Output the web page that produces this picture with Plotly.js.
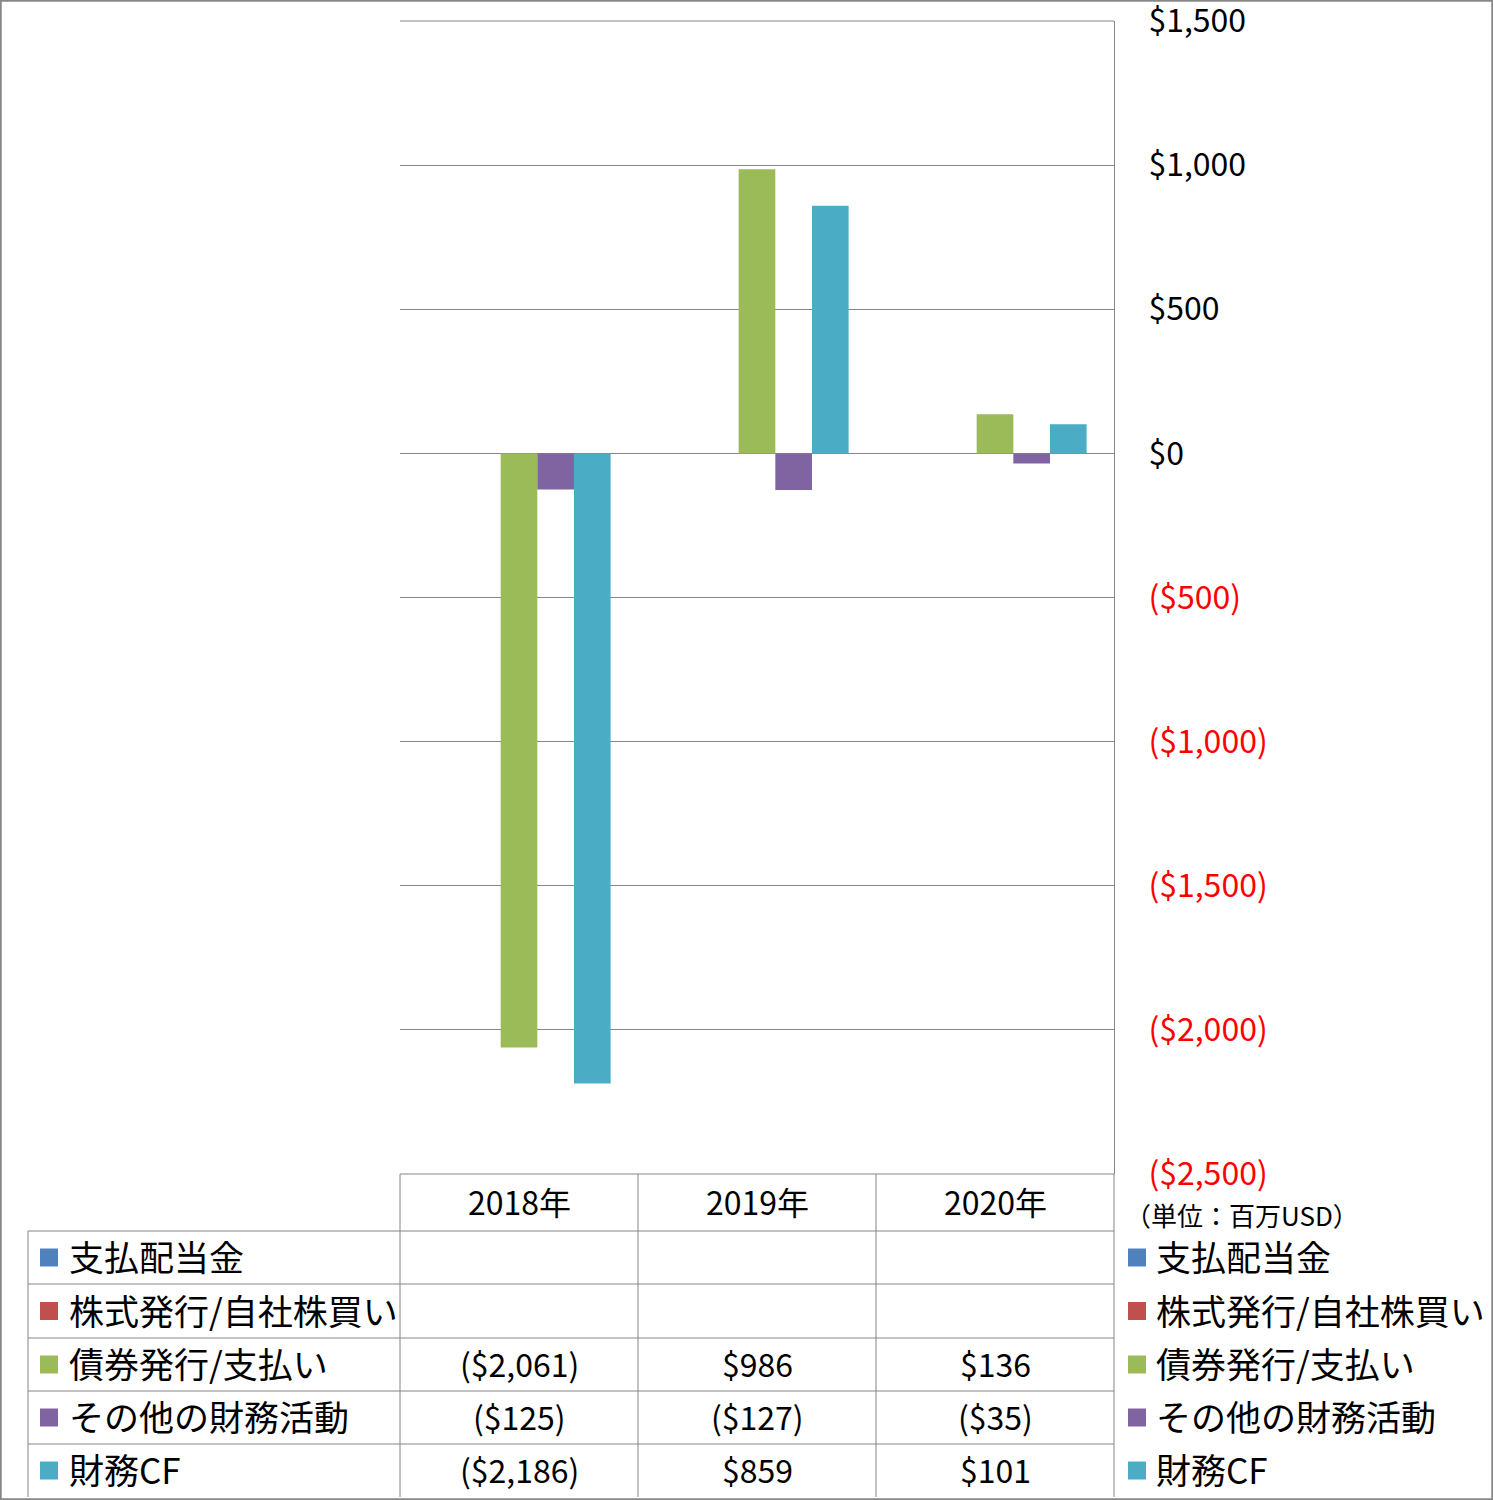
<!DOCTYPE html>
<html>
<head>
<meta charset="utf-8">
<script src="https://cdn.plot.ly/plotly-3.0.1.min.js"></script>
<style>body{margin:0;background:#fff}</style>
</head>
<body>
<div id="plot" style="width:1493px;height:1500px"></div>
<script>
// categories and series
var years = ["2018年", "2019年", "2020年"];
var seriesNames = ["支払配当金", "株式発行/自社株買い", "債券発行/支払い", "その他の財務活動", "財務CF"];
var seriesColors = ["#4F81BD", "#C0504D", "#9BBB59", "#8064A2", "#4BACC6"];
var dividends = [null, null, null];
var stockIssue = [null, null, null];
var debtIssue = [-2061, 986, 136];
var otherFin = [-125, -127, -35];
var financingCF = [-2186, 859, 101];
var seriesValues = [dividends, stockIssue, debtIssue, otherFin, financingCF];
var tickVals = [1500, 1000, 500, 0, -500, -1000, -1500, -2000, -2500];
var unitLabel = "（単位：百万USD）";

var W = 1493, H = 1500;
var FONT = "'Noto Sans CJK JP', 'Noto Sans', sans-serif";
var GRID = "#868686";
function px(x) { return x / W; }
function py(y) { return 1 - y / H; }

function fmt(v) {
  if (v === null || v === undefined) return "";
  var s = "$" + Math.abs(v).toLocaleString("en-US");
  return v < 0 ? "(" + s + ")" : s;
}

var data = seriesNames.map(function (name, i) {
  return {
    x: years,
    y: seriesValues[i],
    name: name,
    type: "bar",
    marker: {color: seriesColors[i]},
    hoverinfo: "none"
  };
});

// plot area and table geometry (pixels)
var plotL = 400, plotR = 1114, plotT = 21, plotB = 1174;
var colX = [400, 638, 876, 1114];
var rowY = [1231, 1284, 1338, 1391, 1444, 1497];

var shapes = [];
var annotations = [];
function hline(x0, x1, y) {
  shapes.push({type: "line", xref: "paper", yref: "paper", x0: px(x0), x1: px(x1), y0: py(y), y1: py(y), line: {color: GRID, width: 1}});
}
function vline(x, y0, y1) {
  shapes.push({type: "line", xref: "paper", yref: "paper", x0: px(x), x1: px(x), y0: py(y0), y1: py(y1), line: {color: GRID, width: 1}});
}

// top and bottom edges of the plot area (gridlines at range ends)
hline(plotL, plotR, plotT);
hline(plotL, plotR, plotB);

// data table grid
for (var r = 0; r < rowY.length - 1; r++) hline(28, plotR, rowY[r]);
vline(28, rowY[0], rowY[rowY.length - 1]);
colX.forEach(function (x) { vline(x, plotB, rowY[rowY.length - 1]); });

// header row: years
years.forEach(function (yr, c) {
  annotations.push({xref: "paper", yref: "paper", x: px((colX[c] + colX[c + 1]) / 2), y: py((plotB + rowY[0]) / 2 - 2),
    text: yr, showarrow: false, xanchor: "center", yanchor: "middle", font: {family: FONT, size: 32, color: "#000"}});
});

// table rows + both legends
seriesNames.forEach(function (name, i) {
  var yc = (rowY[i] + rowY[i + 1]) / 2;
  [[40, 67], [1128, 1154]].forEach(function (pos) {
    shapes.push({type: "rect", xref: "paper", yref: "paper", x0: px(pos[0]), x1: px(pos[0] + 18), y0: py(yc - 9), y1: py(yc + 9),
      fillcolor: seriesColors[i], line: {width: 0}});
    annotations.push({xref: "paper", yref: "paper", x: px(pos[1]), y: py(yc - 2), text: name, showarrow: false,
      xanchor: "left", yanchor: "middle", font: {family: FONT, size: 35, color: "#000"}});
  });
  seriesValues[i].forEach(function (v, c) {
    annotations.push({xref: "paper", yref: "paper", x: px((colX[c] + colX[c + 1]) / 2), y: py(yc - 2), text: fmt(v),
      showarrow: false, xanchor: "center", yanchor: "middle", font: {family: FONT, size: 32, color: "#000"}});
  });
});

annotations.push({xref: "paper", yref: "paper", x: px(1123), y: py(1214), text: unitLabel, showarrow: false,
  xanchor: "left", yanchor: "middle", font: {family: FONT, size: 26, color: "#000"}});

// outer border
shapes.push({type: "rect", xref: "paper", yref: "paper", x0: 0.0005, x1: 0.9995, y0: 0.0005, y1: 0.9995,
  line: {color: "#888888", width: 2}, fillcolor: "rgba(0,0,0,0)"});

var layout = {
  width: W,
  height: H,
  margin: {l: 0, r: 0, t: 0, b: 0},
  paper_bgcolor: "#fff",
  plot_bgcolor: "#fff",
  showlegend: false,
  barmode: "group",
  bargap: 0.23,
  bargroupgap: 0,
  font: {family: FONT, color: "#000"},
  xaxis: {
    domain: [px(plotL), px(plotR)],
    showticklabels: false,
    showgrid: false,
    zeroline: false,
    ticks: "",
    fixedrange: true
  },
  yaxis: {
    domain: [py(plotB), py(plotT)],
    side: "right",
    range: [-2500, 1500],
    tickvals: tickVals,
    ticktext: tickVals.map(function (v) {
      return v < 0 ? '<span style="color:#FF0000">' + fmt(v) + '</span>' : fmt(v);
    }),
    ticks: "",
    ticklabelstandoff: 27,
    ticklabeloverflow: "allow",
    tickfont: {family: FONT, size: 32, color: "#000"},
    showgrid: true,
    gridcolor: GRID,
    gridwidth: 1,
    zeroline: true,
    zerolinecolor: GRID,
    zerolinewidth: 1,
    showline: true,
    linecolor: GRID,
    linewidth: 1,
    fixedrange: true
  },
  shapes: shapes,
  annotations: annotations
};

Plotly.newPlot("plot", data, layout, {staticPlot: true});
</script>
</body>
</html>
